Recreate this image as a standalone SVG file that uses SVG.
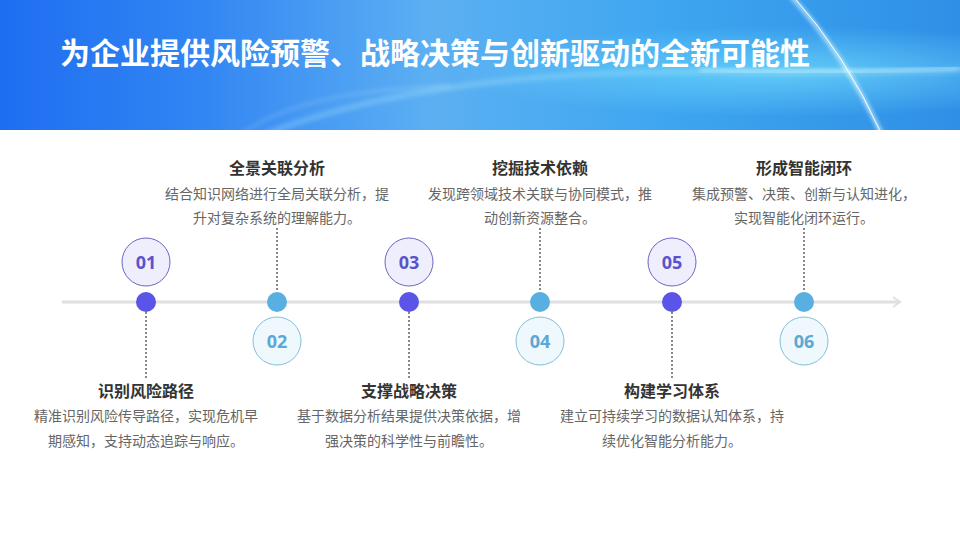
<svg xmlns="http://www.w3.org/2000/svg" width="960" height="540" viewBox="0 0 960 540">
<defs>
<linearGradient id="hdr" x1="0" y1="0" x2="1" y2="0">
<stop offset="0" stop-color="#1f6ef2"/>
<stop offset="0.2" stop-color="#3184f2"/>
<stop offset="0.45" stop-color="#5cb0f2"/>
<stop offset="0.7" stop-color="#3da6f0"/>
<stop offset="1" stop-color="#2f8fe6"/>
</linearGradient>
<radialGradient id="glow" cx="0.82" cy="0.55" r="0.35">
<stop offset="0" stop-color="#7ee8ff" stop-opacity="0.6"/>
<stop offset="1" stop-color="#7ee8ff" stop-opacity="0"/>
</radialGradient>
<filter id="blur" x="-20%" y="-20%" width="140%" height="140%"><feGaussianBlur stdDeviation="2"/></filter>
<marker id="arr" viewBox="0 0 10 12" refX="8" refY="6" markerWidth="10" markerHeight="12" markerUnits="userSpaceOnUse" orient="auto">
<path d="M1,1 L8,6 L1,11" fill="none" stroke="#e0e0e0" stroke-width="2"/>
</marker>
<clipPath id="hc"><rect x="0" y="0" width="960" height="130"/></clipPath>
</defs>
<style>
.ttl{font-family:"Noto Sans CJK SC","Noto Sans",sans-serif;font-weight:700;font-size:30px;fill:#ffffff}
.h{font-family:"Noto Sans CJK SC",sans-serif;font-weight:700;font-size:16px;fill:#333333;text-anchor:middle}
.d{font-family:"Noto Sans CJK SC",sans-serif;font-size:14px;fill:#666666;text-anchor:middle}
.num{font-family:"Open Sans","Noto Sans",sans-serif;font-weight:700;font-size:18px;text-anchor:middle}
.oddc{fill:#efeefc;stroke:#6b67c6;stroke-width:1}
.evenc{fill:#eef8fd;stroke:#82c0dc;stroke-width:1}
.oddn{fill:#5a53cc}
.evenn{fill:#5ba8d6}
.odot{fill:#5b54e8}
.edot{fill:#5aafe2}
.dash{stroke:#888888;stroke-width:2;stroke-dasharray:2 2;fill:none}
</style>
<g id="header">
<rect x="0" y="0" width="960" height="130" fill="url(#hdr)"/>
<g clip-path="url(#hc)">
<rect x="0" y="0" width="960" height="130" fill="url(#glow)"/>
<path d="M250,140 Q420,70 700,72 T960,68" fill="none" stroke="#bff4ff" stroke-opacity="0.25" stroke-width="6" filter="url(#blur)"/>
<path d="M700,70 Q820,74 960,68" fill="none" stroke="#e8ffff" stroke-opacity="0.8" stroke-width="2" filter="url(#blur)"/>
<path d="M790,-5 Q845,55 882,135" fill="none" stroke="#eaffff" stroke-opacity="0.9" stroke-width="3" filter="url(#blur)"/>
<path d="M792,-5 Q846,55 882,135" fill="none" stroke="#ffffff" stroke-width="1"/>
<path d="M240,135 Q300,90 450,86" fill="none" stroke="#ffffff" stroke-opacity="0.15" stroke-width="3" filter="url(#blur)"/>
</g>
<text class="ttl" x="60" y="64">为企业提供风险预警、战略决策与创新驱动的全新可能性</text>
</g>
<g id="connectors">
<line x1="62" y1="302" x2="900" y2="302" stroke="#e0e0e0" stroke-width="3" marker-end="url(#arr)"/>
<line class="dash" x1="146" y1="312" x2="146" y2="378"/>
<line class="dash" x1="277" y1="228" x2="277" y2="292"/>
<line class="dash" x1="409" y1="312" x2="409" y2="378"/>
<line class="dash" x1="540" y1="228" x2="540" y2="292"/>
<line class="dash" x1="672" y1="312" x2="672" y2="378"/>
<line class="dash" x1="804" y1="228" x2="804" y2="292"/>
</g>
<g id="node01">
<circle class="oddc" cx="146" cy="262" r="24"/>
<text class="num oddn" x="146" y="268.5">01</text>
<circle class="odot" cx="146" cy="302" r="10"/>
<text class="h" x="146" y="397">识别风险路径</text>
<text class="d" x="146" y="421">精准识别风险传导路径，实现危机早</text>
<text class="d" x="146" y="446">期感知，支持动态追踪与响应。</text>
</g>
<g id="node02">
<circle class="evenc" cx="277" cy="341" r="24"/>
<text class="num evenn" x="277" y="347.5">02</text>
<circle class="edot" cx="277" cy="302" r="10"/>
<text class="h" x="277" y="174">全景关联分析</text>
<text class="d" x="277" y="199">结合知识网络进行全局关联分析，提</text>
<text class="d" x="277" y="223">升对复杂系统的理解能力。</text>
</g>
<g id="node03">
<circle class="oddc" cx="409" cy="262" r="24"/>
<text class="num oddn" x="409" y="268.5">03</text>
<circle class="odot" cx="409" cy="302" r="10"/>
<text class="h" x="409" y="397">支撑战略决策</text>
<text class="d" x="409" y="421">基于数据分析结果提供决策依据，增</text>
<text class="d" x="409" y="446">强决策的科学性与前瞻性。</text>
</g>
<g id="node04">
<circle class="evenc" cx="540" cy="341" r="24"/>
<text class="num evenn" x="540" y="347.5">04</text>
<circle class="edot" cx="540" cy="302" r="10"/>
<text class="h" x="540" y="174">挖掘技术依赖</text>
<text class="d" x="540" y="199">发现跨领域技术关联与协同模式，推</text>
<text class="d" x="540" y="223">动创新资源整合。</text>
</g>
<g id="node05">
<circle class="oddc" cx="672" cy="262" r="24"/>
<text class="num oddn" x="672" y="268.5">05</text>
<circle class="odot" cx="672" cy="302" r="10"/>
<text class="h" x="672" y="397">构建学习体系</text>
<text class="d" x="672" y="421">建立可持续学习的数据认知体系，持</text>
<text class="d" x="672" y="446">续优化智能分析能力。</text>
</g>
<g id="node06">
<circle class="evenc" cx="804" cy="341" r="24"/>
<text class="num evenn" x="804" y="347.5">06</text>
<circle class="edot" cx="804" cy="302" r="10"/>
<text class="h" x="804" y="174">形成智能闭环</text>
<text class="d" x="804" y="199">集成预警、决策、创新与认知进化，</text>
<text class="d" x="804" y="223">实现智能化闭环运行。</text>
</g>
</svg>
